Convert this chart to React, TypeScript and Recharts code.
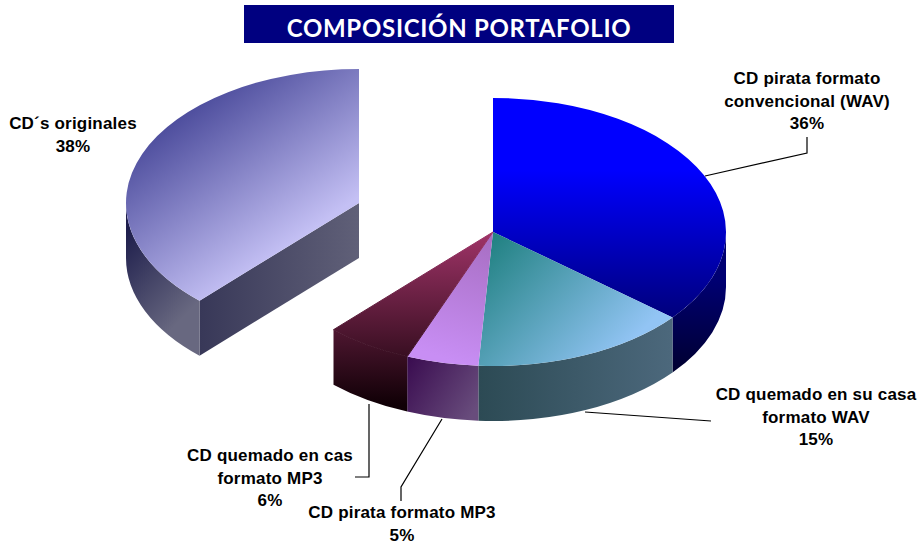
import React from 'react';
import { PieChart, Pie } from 'recharts';

const sliceNames = [
  'CD pirata formato convencional (WAV)',
  'CD quemado en su casa formato WAV',
  'CD pirata formato MP3',
  'CD quemado en cas formato MP3',
  'CD´s originales',
];
const sliceValues = [36, 15, 5, 6, 38];
const labelLines = [
  ['CD pirata formato', 'convencional (WAV)'],
  ['CD quemado en su casa', 'formato WAV'],
  ['CD pirata formato MP3'],
  ['CD quemado en cas', 'formato MP3'],
  ['CD´s originales'],
];

const pieData = sliceNames.map((name, i) => ({ name, value: sliceValues[i] }));

// geometry of the tilted pie
const RX = 233;
const RY = 134;
const DEPTH = 55;
const EXPLODED = 4;
const EXPLODE_DX = -134;
const EXPLODE_DY = -29;
// this slice has no visible edge between top and wall
const SEAMLESS = 3;

// label centre x, first line y, and leader line for each slice
const labelPos = [
  { x: 807, y: 84, leader: '807,137 807,153 705,176' },
  { x: 816, y: 400, leader: '585,412 711,421' },
  { x: 402, y: 518, leader: '442,419 401,487 401,501' },
  { x: 270, y: 461, leader: '369,404 369,477 355,477' },
  { x: 73, y: 129, leader: '' },
];

const rad = (a: number) => (a * Math.PI) / 180;

const Slice3D = (props: any) => {
  const { cx, cy, startAngle, endAngle, name } = props;
  const i = sliceNames.indexOf(name);
  const ox = cx + (i === EXPLODED ? EXPLODE_DX : 0);
  const oy = cy + (i === EXPLODED ? EXPLODE_DY : 0);
  const px = (a: number) => ox + RX * Math.cos(rad(a));
  const py = (a: number) => oy - RY * Math.sin(rad(a));
  const large = startAngle - endAngle > 180 ? 1 : 0;
  const top = `M${ox},${oy} L${px(startAngle)},${py(startAngle)} A${RX},${RY} 0 ${large} 1 ${px(endAngle)},${py(endAngle)} Z`;

  // outer wall is only seen on the front half of the ellipse
  const from = Math.min(startAngle, 0);
  const to = Math.max(endAngle, -180);
  const wall =
    from > to
      ? `M${px(from)},${py(from)} A${RX},${RY} 0 0 1 ${px(to)},${py(to)} L${px(to)},${py(to) + DEPTH} A${RX},${RY} 0 0 0 ${px(from)},${py(from) + DEPTH} Z`
      : null;
  const face =
    i === EXPLODED
      ? `M${ox},${oy} L${px(startAngle)},${py(startAngle)} l0,${DEPTH} L${ox},${oy + DEPTH} Z`
      : null;

  return (
    <g>
      {face && <path d={face} fill="url(#face4)" />}
      {wall && <path d={wall} fill={`url(#wall${i})`} />}
      {i === SEAMLESS ? (
        <path d={top} fill={`url(#top${i})`} stroke={`url(#top${i})`} strokeWidth={1} />
      ) : (
        <path d={top} fill={`url(#top${i})`} />
      )}
    </g>
  );
};

const renderLabel = (props: any) => {
  const i = props.index;
  const pos = labelPos[i];
  const lines = [...labelLines[i], `${sliceValues[i]}%`];
  return (
    <text
      key={i}
      textAnchor="middle"
      fontFamily="Liberation Sans"
      fontWeight="bold"
      fontSize={17}
      letterSpacing={0.2}
      fill="#000"
    >
      {lines.map((t, k) => (
        <tspan key={k} x={pos.x} y={pos.y + k * 22.5}>
          {t}
        </tspan>
      ))}
    </text>
  );
};

const renderLine = (props: any) => {
  const pos = labelPos[props.index];
  if (!pos.leader) return <g key={props.index} />;
  return <polyline key={props.index} points={pos.leader} fill="none" stroke="#000" strokeWidth={1.2} />;
};

export default function App() {
  return (
    <div style={{ position: 'absolute', left: 0, top: 0, width: 921, height: 544, background: '#fff' }}>
      <div
        style={{
          position: 'absolute',
          left: 244,
          top: 5,
          width: 430,
          height: 38,
          background: '#000080',
          color: '#fff',
          fontFamily: 'Lato',
          fontWeight: 700,
          fontSize: 24,
          letterSpacing: 0.7,
          lineHeight: '46px',
          textAlign: 'center',
        }}
      >
        COMPOSICIÓN PORTAFOLIO
      </div>
      <PieChart
        width={921}
        height={544}
        margin={{ top: 0, right: 0, bottom: 0, left: 0 }}
        style={{ position: 'absolute', left: 0, top: 0 }}
      >
        <defs>
          <linearGradient id="top0" gradientUnits="userSpaceOnUse" x1="0" y1="170" x2="0" y2="317">
            <stop offset="0" stopColor="#0000ff" />
            <stop offset="1" stopColor="#00007c" />
          </linearGradient>
          <linearGradient id="wall0" gradientUnits="userSpaceOnUse" x1="0" y1="280" x2="0" y2="372">
            <stop offset="0" stopColor="#000072" />
            <stop offset="1" stopColor="#000030" />
          </linearGradient>
          <linearGradient id="top1" gradientUnits="userSpaceOnUse" x1="490" y1="235" x2="620" y2="355">
            <stop offset="0" stopColor="#1f8080" />
            <stop offset="1" stopColor="#92c4f4" />
          </linearGradient>
          <linearGradient id="wall1" gradientUnits="userSpaceOnUse" x1="478" y1="0" x2="672" y2="0">
            <stop offset="0" stopColor="#2c4a54" />
            <stop offset="1" stopColor="#4c687c" />
          </linearGradient>
          <linearGradient id="top2" gradientUnits="userSpaceOnUse" x1="490" y1="240" x2="450" y2="360">
            <stop offset="0" stopColor="#a86fc4" />
            <stop offset="1" stopColor="#c88ef4" />
          </linearGradient>
          <linearGradient id="wall2" gradientUnits="userSpaceOnUse" x1="407" y1="360" x2="478" y2="405">
            <stop offset="0" stopColor="#3a0c50" />
            <stop offset="1" stopColor="#684c7c" />
          </linearGradient>
          <linearGradient id="top3" gradientUnits="userSpaceOnUse" x1="0" y1="232" x2="0" y2="405">
            <stop offset="0" stopColor="#a03468" />
            <stop offset="1" stopColor="#100006" />
          </linearGradient>
          <linearGradient id="wall3" gradientUnits="userSpaceOnUse" x1="0" y1="232" x2="0" y2="405">
            <stop offset="0" stopColor="#a03468" />
            <stop offset="1" stopColor="#100006" />
          </linearGradient>
          <linearGradient id="top4" gradientUnits="userSpaceOnUse" x1="170" y1="120" x2="270" y2="260">
            <stop offset="0" stopColor="#4c4c9c" />
            <stop offset="1" stopColor="#c4c0f4" />
          </linearGradient>
          <linearGradient id="wall4" gradientUnits="userSpaceOnUse" x1="127" y1="230" x2="200" y2="300">
            <stop offset="0" stopColor="#1e1e4c" />
            <stop offset="1" stopColor="#686880" />
          </linearGradient>
          <linearGradient id="face4" gradientUnits="userSpaceOnUse" x1="200" y1="0" x2="359" y2="0">
            <stop offset="0" stopColor="#383858" />
            <stop offset="1" stopColor="#606078" />
          </linearGradient>
        </defs>
        <Pie
          data={pieData}
          dataKey="value"
          nameKey="name"
          cx={493}
          cy={232}
          outerRadius={RX}
          startAngle={90}
          endAngle={-270}
          paddingAngle={0}
          stroke="none"
          shape={Slice3D}
          label={renderLabel}
          labelLine={renderLine}
          isAnimationActive={false}
        />
      </PieChart>
    </div>
  );
}
